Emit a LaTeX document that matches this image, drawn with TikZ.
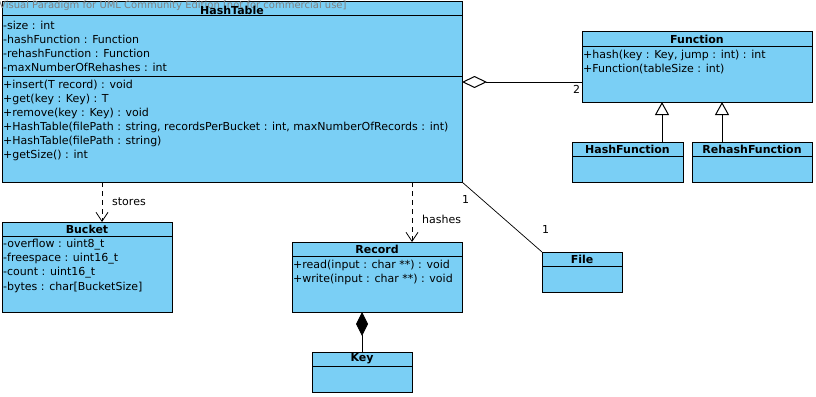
\documentclass[tikz,border=0pt]{standalone}
\usepackage{fontspec}
\setmainfont{DejaVu Sans}
\usetikzlibrary{arrows.meta,calc}
\definecolor{classfill}{RGB}{122,207,245}
\definecolor{watermark}{RGB}{128,128,128}
\begin{document}
\begin{tikzpicture}[x=1pt,y=-1pt,
  classbox/.style={draw, fill=classfill, line width=1pt, anchor=north west,
    inner sep=0pt, outer sep=0pt},
  sepline/.style={line width=1pt},
  classtitle/.style={font=\fontsize{11}{13}\selectfont\bfseries, inner sep=0pt},
  member/.style={font=\fontsize{11}{13}\selectfont, anchor=west, inner sep=0pt},
  lbl/.style={font=\fontsize{11}{13}\selectfont, anchor=west, inner sep=0pt},
  dependency/.style={line width=0.8pt, dash pattern=on 5pt off 4pt,
    -{Straight Barb[length=9pt,width=12pt]}},
  generalization/.style={line width=1pt,
    -{Triangle[open, length=13pt, width=14pt, fill=white]}},
  aggregation/.style={line width=1pt,
    {Diamond[open, length=25pt, width=12pt, fill=white]}-},
  composition/.style={line width=1pt, {Diamond[length=24pt, width=12pt]}-},
  association/.style={line width=0.7pt}]
\useasboundingbox (0,0) rectangle (816,396);

% HashTable
\node[classbox, minimum width=460pt, minimum height=180pt] (ht) at (2,2) {};
\draw[sepline] ($(ht.north west)+(0,14)$) -- ($(ht.north east)+(0,14)$);
\draw[sepline] ($(ht.north west)+(0,74)$) -- ($(ht.north east)+(0,74)$);
\node[font=\fontsize{10}{12}\selectfont, text=watermark, anchor=west, inner sep=0pt]
  (wm) at (-1,6) {Visual Paradigm for UML Community Edition [not for commercial use]};
\node[classtitle] (ht-t) at ($(ht.north)+(0,8)$) {HashTable};
\node[member] (ht-a1) at ($(ht.north west)+(1,23)$) {-size : int};
\node[member] (ht-a2) at ($(ht.north west)+(1,37)$) {-hashFunction : Function};
\node[member] (ht-a3) at ($(ht.north west)+(1,51)$) {-rehashFunction : Function};
\node[member] (ht-a4) at ($(ht.north west)+(1,65)$) {-maxNumberOfRehashes : int};
\node[member] (ht-m1) at ($(ht.north west)+(1,83)$) {+insert(T record) : void};
\node[member] (ht-m2) at ($(ht.north west)+(1,97)$) {+get(key : Key) : T};
\node[member] (ht-m3) at ($(ht.north west)+(1,111)$) {+remove(key : Key) : void};
\node[member] (ht-m4) at ($(ht.north west)+(1,125)$) {+HashTable(filePath : string, recordsPerBucket : int, maxNumberOfRecords : int)};
\node[member] (ht-m5) at ($(ht.north west)+(1,139)$) {+HashTable(filePath : string)};
\node[member] (ht-m6) at ($(ht.north west)+(1,153)$) {+getSize() : int};

% Function
\node[classbox, minimum width=230pt, minimum height=70pt] (fn) at (582,32) {};
\draw[sepline] ($(fn.north west)+(0,15)$) -- ($(fn.north east)+(0,15)$);
\node[classtitle] (fn-t) at ($(fn.north)+(0,7.5)$) {Function};
\node[member] (fn-m1) at ($(fn.north west)+(1,23)$) {+hash(key : Key, jump : int) : int};
\node[member] (fn-m2) at ($(fn.north west)+(1,37)$) {+Function(tableSize : int)};

% HashFunction
\node[classbox, minimum width=111pt, minimum height=40pt] (hf) at (572,142) {};
\draw[sepline] ($(hf.north west)+(0,14)$) -- ($(hf.north east)+(0,14)$);
\node[classtitle] (hf-t) at ($(hf.north)+(0,7)$) {HashFunction};

% RehashFunction
\node[classbox, minimum width=120pt, minimum height=40pt] (rf) at (692,142) {};
\draw[sepline] ($(rf.north west)+(0,14)$) -- ($(rf.north east)+(0,14)$);
\node[classtitle] (rf-t) at ($(rf.north)+(0,7)$) {RehashFunction};

% Bucket
\node[classbox, minimum width=170pt, minimum height=90pt] (bk) at (2,222) {};
\draw[sepline] ($(bk.north west)+(0,14)$) -- ($(bk.north east)+(0,14)$);
\node[classtitle] (bk-t) at ($(bk.north)+(0,7)$) {Bucket};
\node[member] (bk-a1) at ($(bk.north west)+(1,23)$) {-overflow : uint8\_t};
\node[member] (bk-a2) at ($(bk.north west)+(1,37)$) {-freespace : uint16\_t};
\node[member] (bk-a3) at ($(bk.north west)+(1,51)$) {-count : uint16\_t};
\node[member] (bk-a4) at ($(bk.north west)+(1,65)$) {-bytes : char[BucketSize]};

% Record
\node[classbox, minimum width=170pt, minimum height=70pt] (rc) at (292,242) {};
\draw[sepline] ($(rc.north west)+(0,14)$) -- ($(rc.north east)+(0,14)$);
\node[classtitle] (rc-t) at ($(rc.north)+(0,7)$) {Record};
\node[member] (rc-m1) at ($(rc.north west)+(1,23)$) {+read(input : char **) : void};
\node[member] (rc-m2) at ($(rc.north west)+(1,37)$) {+write(input : char **) : void};

% Key
\node[classbox, minimum width=100pt, minimum height=40pt] (ky) at (312,352) {};
\draw[sepline] ($(ky.north west)+(0,14)$) -- ($(ky.north east)+(0,14)$);
\node[classtitle] (ky-t) at ($(ky.north)+(0,7)$) {Key};

% File
\node[classbox, minimum width=80pt, minimum height=40pt] (fl) at (542,252) {};
\draw[sepline] ($(fl.north west)+(0,14)$) -- ($(fl.north east)+(0,14)$);
\node[classtitle] (fl-t) at ($(fl.north)+(0,7)$) {File};

% Relationships
\draw[aggregation] ($(ht.north east)+(0,80)$) -- ($(fn.north west)+(0,50)$);
\node[lbl] (agg-m) at ($(fn.north west)+(-9,57)$) {2};

\draw[generalization] ($(hf.north west)+(90,0)$) -- ($(fn.south west)+(80,0)$);
\draw[generalization] ($(rf.north west)+(30,0)$) -- ($(fn.south west)+(140,0)$);

\draw[dependency] ($(ht.south west)+(100,0)$) -- ($(bk.north west)+(100,0)$);
\node[lbl] (stores) at ($(ht.south west)+(110,20)$) {stores};

\draw[dependency] ($(ht.south west)+(410,0)$) -- ($(rc.north west)+(120,0)$);
\node[lbl] (hashes) at ($(ht.south west)+(420,37)$) {hashes};

\draw[composition] ($(rc.south west)+(70,0)$) -- (ky.north);

\draw[association] (ht.south east) -- (fl.north west);
\node[lbl] (as-m1) at ($(ht.south east)+(0,17)$) {1};
\node[lbl] (as-m2) at ($(fl.north west)+(0,-23)$) {1};
\end{tikzpicture}
\end{document}
